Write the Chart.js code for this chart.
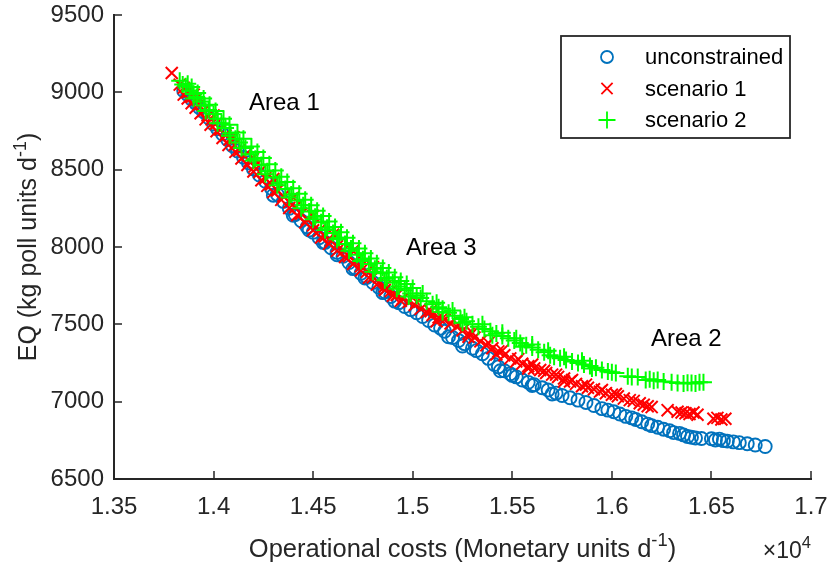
<!DOCTYPE html>
<html>
<head>
<meta charset="utf-8">
<script src="https://cdn.jsdelivr.net/npm/chart.js@4/dist/chart.umd.min.js"></script>
<style>
  html, body { margin: 0; padding: 0; background: #ffffff; }
  canvas { display: block; }
</style>
</head>
<body>
<canvas id="front" width="828" height="570"></canvas>
<script>
// Pareto fronts: operational cost (monetary units/d) vs effluent quality (kg poll units/d)
const unconstrainedCost = [
  13850, 13870, 13890, 13910, 13930, 13950, 13975, 14000, 14020, 14045,
  14070, 14095, 14120, 14150, 14175, 14200, 14230, 14260, 14290, 14320,
  14350, 14380, 14410, 14440, 14470, 14500, 14530, 14560, 14590, 14620,
  14650, 14680, 14710, 14740, 14770, 14800, 14830, 14860, 14890, 14930,
  14960, 14990, 15020, 15050, 15080, 15110, 15140, 15160, 15200, 15230,
  15260, 15300, 15320, 15350, 15380, 15410, 15430, 15460, 15490, 15520,
  15550, 15580, 15610, 15650, 15680, 15720, 15750, 15790, 15830, 15870,
  15910, 15950, 15980, 16010, 16040, 16070, 16100, 16120, 16150, 16180,
  16200, 16230, 16260, 16290, 16310, 16340, 16360, 16380, 16400, 16420,
  16450, 16500, 16520, 16540, 16560, 16580, 16610, 16640, 16680, 16720,
  16770,
  14300, 14400, 14480, 14550, 14620, 14700, 14760, 14850, 14910, 15180,
  15250, 15440, 15500, 15600, 15700
];
const unconstrainedEQ = [
  9010, 8985, 8955, 8930, 8900, 8875, 8835, 8795, 8765, 8730,
  8695, 8655, 8620, 8580, 8545, 8505, 8465, 8425, 8380, 8340,
  8295, 8250, 8210, 8170, 8130, 8095, 8060, 8030, 7995, 7965,
  7940, 7900, 7865, 7830, 7805, 7770, 7740, 7710, 7680, 7640,
  7615, 7595, 7575, 7550, 7525, 7495, 7475, 7455, 7415, 7395,
  7375, 7345, 7330, 7310, 7280, 7240, 7225, 7200, 7180, 7160,
  7140, 7125, 7110, 7090, 7075, 7055, 7040, 7025, 7010, 6995,
  6975, 6955, 6945, 6935, 6920, 6905, 6895, 6885, 6870, 6855,
  6845, 6835, 6822, 6812, 6800, 6795, 6785, 6775, 6770, 6765,
  6762, 6760, 6752, 6758, 6748, 6745, 6740, 6735, 6728, 6720,
  6710,
  8335, 8205, 8110, 8030, 7950, 7860, 7800, 7705, 7650, 7420,
  7360, 7200, 7170, 7105, 7050
];

const scenario1Cost = [
  13790, 13830, 13850, 13870, 13890, 13905, 13925, 13950, 13970, 13990,
  14010, 14035, 14060, 14080, 14105, 14130, 14155, 14180, 14205, 14230,
  14260, 14290, 14320, 14350, 14380, 14410, 14440, 14470, 14500, 14530,
  14560, 14590, 14620, 14650, 14680, 14710, 14740, 14770, 14800, 14830,
  14860, 14890, 14920, 14950, 14980, 15010, 15040, 15070, 15100, 15130,
  15160, 15190, 15220, 15250, 15280, 15310, 15340, 15370, 15400, 15430,
  15460, 15490, 15520, 15550, 15580, 15610, 15640, 15670, 15700, 15730,
  15760, 15790, 15820, 15850, 15880, 15910, 15940, 15970, 16000, 16030,
  16060, 16090, 16110, 16140, 16160, 16180, 16200, 16280, 16330, 16350,
  16370, 16390, 16410, 16430, 16510, 16530, 16550, 16570,
  13850, 13870, 13890, 13910, 13935, 13960, 13985, 14015, 14045, 14075,
  14110, 14140, 14170, 14200, 14240, 14270, 14300, 14340, 14380, 14420,
  14460, 14500, 14540, 14580, 14620, 14660, 14700, 14740, 14780, 14820,
  14860, 14900, 14940,
  13900, 14000, 14100, 14200, 14300, 14400, 14500, 14600, 14700, 14800,
  15020, 15090, 15150, 15230, 15300, 15380, 15450, 15530, 15600, 15660,
  15720, 15800, 15870, 15950, 16020, 15120, 15280, 15420, 15580, 15760
];
const scenario1EQ = [
  9125, 9050, 9030, 9000, 8970, 8950, 8920, 8880, 8850, 8825,
  8795, 8760, 8720, 8695, 8660, 8625, 8590, 8555, 8520, 8485,
  8445, 8405, 8365, 8330, 8290, 8255, 8215, 8180, 8140, 8105,
  8070, 8040, 8005, 7975, 7940, 7905, 7875, 7840, 7805, 7770,
  7745, 7715, 7690, 7665, 7645, 7625, 7600, 7580, 7560, 7545,
  7530, 7505, 7485, 7460, 7440, 7415, 7390, 7365, 7345, 7325,
  7300, 7280, 7260, 7245, 7230, 7215, 7205, 7185, 7175, 7160,
  7150, 7130, 7115, 7100, 7090, 7080, 7065, 7055, 7045, 7035,
  7020, 7010, 7005, 6990, 6980, 6970, 6965, 6945, 6935, 6930,
  6925, 6920, 6930, 6915, 6890, 6895, 6885, 6890,
  8985, 8960, 8930, 8900, 8865, 8825, 8790, 8748, 8705, 8660,
  8615, 8572, 8530, 8488, 8432, 8395, 8355, 8305, 8252, 8205,
  8158, 8108, 8062, 8020, 7975, 7935, 7890, 7848, 7802, 7757,
  7722, 7685, 7652,
  8985, 8850, 8710, 8575, 8440, 8320, 8200, 8080, 7975, 7870,
  7645, 7585, 7540, 7495, 7445, 7380, 7330, 7275, 7240, 7200,
  7175, 7140, 7110, 7075, 7050, 7520, 7420, 7305, 7215, 7130
];

const scenario2Cost = [
  13830, 13845, 13860, 13880, 13900, 13915, 13935, 13955, 13975, 14000,
  14020, 14040, 14060, 14085, 14110, 14130, 14160, 14185, 14210, 14240,
  14270, 14300, 14330, 14360, 14390, 14420, 14450, 14480, 14510, 14540,
  14570, 14600, 14630, 14660, 14690, 14720, 14750, 14780, 14810, 14840,
  14870, 14900, 14930, 14960, 14990, 15020, 15040, 15070, 15100, 15130,
  15150, 15180, 15210, 15240, 15270, 15300, 15330, 15360, 15390, 15420,
  15450, 15480, 15510, 15540, 15570, 15600, 15630, 15660, 15690, 15710,
  15740, 15770, 15800, 15830, 15860, 15890, 15920, 15950, 15980, 16000,
  16020, 16080, 16100, 16130, 16170, 16190, 16210, 16230, 16260, 16300,
  16330, 16360, 16380, 16400, 16420, 16440, 16460,
  13870, 13890, 13920, 13950, 13980, 14010, 14050, 14080, 14120, 14150,
  14190, 14220, 14250, 14280, 14310, 14340, 14370, 14400, 14430, 14460,
  14490, 14520, 14550, 14580, 14610, 14640, 14670, 14700, 14730, 14760,
  14790, 14820, 14850, 14880, 14910, 14940, 14970, 15000,
  13900, 13960, 14020, 14080, 14140, 14200, 14260, 14320, 14380, 14440,
  14500, 14560, 14620, 14680, 14740, 14800, 14860, 14920, 14980,
  15050, 15120, 15200, 15260, 15350, 15450, 15520, 15600, 15680, 15760,
  15850, 15150, 15250, 15400, 15550, 15900
];
const scenario2EQ = [
  9075, 9050, 9040, 9010, 8990, 8970, 8940, 8915, 8885, 8860,
  8830, 8800, 8770, 8735, 8700, 8675, 8640, 8600, 8570, 8530,
  8490, 8450, 8415, 8375, 8340, 8300, 8270, 8230, 8195, 8160,
  8125, 8090, 8060, 8020, 7990, 7950, 7920, 7890, 7860, 7830,
  7800, 7770, 7745, 7720, 7700, 7685, 7670, 7650, 7630, 7610,
  7600, 7575, 7555, 7535, 7520, 7500, 7485, 7470, 7455, 7440,
  7425, 7410, 7395, 7380, 7365, 7350, 7335, 7320, 7300, 7290,
  7280, 7270, 7260, 7250, 7240, 7230, 7220, 7205, 7195, 7190,
  7185, 7165, 7160, 7160, 7140, 7145, 7135, 7140, 7130, 7125,
  7120, 7118, 7122, 7120, 7118, 7125, 7125,
  9055, 9035, 8995, 8960, 8920, 8880, 8830, 8790, 8740, 8700,
  8650, 8615, 8575, 8535, 8495, 8455, 8420, 8380, 8345, 8305,
  8270, 8235, 8200, 8165, 8130, 8095, 8060, 8025, 7990, 7960,
  7925, 7895, 7865, 7835, 7805, 7780, 7760, 7735,
  8960, 8880, 8800, 8720, 8640, 8560, 8470, 8400, 8320, 8250,
  8180, 8110, 8050, 7975, 7910, 7840, 7785, 7730, 7680,
  7700, 7640, 7590, 7545, 7500, 7445, 7410, 7370, 7330, 7290,
  7265, 7580, 7510, 7430, 7355, 7215
];

const seriesNames = ['unconstrained', 'scenario 1', 'scenario 2'];
const xTickValues = [13500, 14000, 14500, 15000, 15500, 16000, 16500, 17000];
const xTickLabels = ['1.35', '1.4', '1.45', '1.5', '1.55', '1.6', '1.65', '1.7'];
const yTickValues = [6500, 7000, 7500, 8000, 8500, 9000, 9500];
const yTickLabels = ['6500', '7000', '7500', '8000', '8500', '9000', '9500'];

// Region annotations placed in data coordinates
const areaNames = ['Area 1', 'Area 3', 'Area 2'];
const areaCost = [14178, 14966, 16196];
const areaEQ = [8931, 7993, 7405];

const FONT = '"Liberation Sans", Arial, Helvetica, sans-serif';
const INK = '#262626';
const COLORS = ['#0072BD', '#FF0000', '#00FF00'];

function points(xs, ys) { return xs.map((x, i) => ({ x: x, y: ys[i] })); }

// Draws text runs where some parts are raised superscripts
function richText(ctx, runs, x, y, size, align) {
  const parts = runs.map(r => {
    const s = r.sup ? size * 0.72 : size;
    ctx.font = s + 'px ' + FONT;
    return { text: r.text, sup: r.sup, size: s, w: ctx.measureText(r.text).width };
  });
  const total = parts.reduce((a, p) => a + p.w, 0);
  let cx = align === 'center' ? x - total / 2 : (align === 'right' ? x - total : x);
  ctx.textAlign = 'left';
  ctx.textBaseline = 'alphabetic';
  parts.forEach(p => {
    ctx.font = p.size + 'px ' + FONT;
    ctx.fillText(p.text, cx, p.sup ? y - size * 0.42 : y);
    cx += p.w;
  });
}

// MATLAB-style inward tick marks on the left and bottom axes
const inwardTicks = {
  id: 'inwardTicks',
  afterDatasetsDraw(chart) {
    const { ctx, chartArea: a, scales: { x, y } } = chart;
    ctx.save();
    ctx.strokeStyle = INK;
    ctx.lineWidth = 1.5;
    ctx.beginPath();
    x.ticks.forEach(t => {
      const px = Math.round(x.getPixelForValue(t.value));
      ctx.moveTo(px, a.bottom);
      ctx.lineTo(px, a.bottom - 8);
    });
    y.ticks.forEach(t => {
      const py = Math.round(y.getPixelForValue(t.value));
      ctx.moveTo(a.left, py);
      ctx.lineTo(a.left + 8, py);
    });
    ctx.stroke();
    ctx.restore();
  }
};

// Axis titles with superscripts, exponent note, area labels and boxed legend
const decorations = {
  id: 'decorations',
  afterDraw(chart) {
    const { ctx, chartArea: a, scales: { x, y } } = chart;
    ctx.save();
    ctx.fillStyle = INK;
    richText(ctx, [{ text: 'Operational costs (Monetary units d' }, { text: '-1', sup: true }, { text: ')' }],
      (a.left + a.right) / 2, 557, 25.5, 'center');
    richText(ctx, [{ text: '\u00d7' }, { text: '10' }, { text: '4', sup: true }], a.right, 558, 23, 'right');
    ctx.save();
    ctx.translate(36, (a.top + a.bottom) / 2);
    ctx.rotate(-Math.PI / 2);
    richText(ctx, [{ text: 'EQ (kg poll units d' }, { text: '-1', sup: true }, { text: ')' }], 0, 0, 25, 'center');
    ctx.restore();

    ctx.fillStyle = '#000000';
    ctx.font = '24px ' + FONT;
    ctx.textAlign = 'left';
    ctx.textBaseline = 'middle';
    areaNames.forEach((n, i) => {
      ctx.fillText(n, x.getPixelForValue(areaCost[i]), y.getPixelForValue(areaEQ[i]));
    });

    // legend box
    const bx = 561, by = 36, bw = 229, bh = 102;
    ctx.fillStyle = '#ffffff';
    ctx.fillRect(bx, by, bw, bh);
    ctx.strokeStyle = INK;
    ctx.lineWidth = 1.8;
    ctx.strokeRect(bx, by, bw, bh);
    const rows = [57, 88.5, 120];
    const mx = 607;
    ctx.lineWidth = 1.8;
    seriesNames.forEach((n, i) => {
      const cy = rows[i];
      ctx.strokeStyle = COLORS[i];
      ctx.beginPath();
      if (i === 0) {
        ctx.arc(mx, cy, 6, 0, Math.PI * 2);
      } else if (i === 1) {
        ctx.moveTo(mx - 5.6, cy - 5.6); ctx.lineTo(mx + 5.6, cy + 5.6);
        ctx.moveTo(mx + 5.6, cy - 5.6); ctx.lineTo(mx - 5.6, cy + 5.6);
      } else {
        ctx.moveTo(mx - 8.5, cy); ctx.lineTo(mx + 8.5, cy);
        ctx.moveTo(mx, cy - 8.5); ctx.lineTo(mx, cy + 8.5);
      }
      ctx.stroke();
      ctx.fillStyle = '#000000';
      ctx.font = '22px ' + FONT;
      ctx.textAlign = 'left';
      ctx.textBaseline = 'middle';
      ctx.fillText(n, 645, cy + 1);
    });
    ctx.restore();
  }
};

const tickFont = { family: FONT, size: 24 };

new Chart(document.getElementById('front'), {
  type: 'scatter',
  data: {
    datasets: [
      {
        label: seriesNames[0],
        data: points(unconstrainedCost, unconstrainedEQ),
        pointStyle: 'circle', pointRadius: 6.5,
        pointBorderColor: COLORS[0], pointBackgroundColor: 'rgba(0,0,0,0)', pointBorderWidth: 1.9,
        order: 3
      },
      {
        label: seriesNames[1],
        data: points(scenario1Cost, scenario1EQ),
        pointStyle: 'crossRot', pointRadius: 8.5,
        pointBorderColor: COLORS[1], pointBackgroundColor: COLORS[1], pointBorderWidth: 2,
        order: 2
      },
      {
        label: seriesNames[2],
        data: points(scenario2Cost, scenario2EQ),
        pointStyle: 'cross', pointRadius: 8.5,
        pointBorderColor: COLORS[2], pointBackgroundColor: COLORS[2], pointBorderWidth: 2,
        order: 1
      }
    ]
  },
  options: {
    responsive: false,
    animation: false,
    devicePixelRatio: 1,
    events: [],
    layout: { padding: { left: 0, top: 15, right: 17, bottom: 0 } },
    plugins: { legend: { display: false }, tooltip: { enabled: false } },
    scales: {
      x: {
        type: 'linear', min: 13500, max: 17000,
        afterBuildTicks: s => { s.ticks = xTickValues.map(v => ({ value: v })); },
        afterFit: s => { s.height = 91; s.paddingLeft = 0; s.paddingRight = 0; },
        grid: { display: false, drawTicks: false },
        border: { display: true, color: INK, width: 2 },
        ticks: {
          color: INK, font: tickFont, padding: 14, maxRotation: 0, autoSkip: false,
          callback: v => xTickLabels[xTickValues.indexOf(v)]
        }
      },
      y: {
        type: 'linear', min: 6500, max: 9500,
        afterBuildTicks: s => { s.ticks = yTickValues.map(v => ({ value: v })); },
        afterFit: s => { s.width = 114; s.paddingTop = 0; s.paddingBottom = 0; },
        grid: { display: false, drawTicks: false },
        border: { display: true, color: INK, width: 2 },
        ticks: {
          color: INK, font: tickFont, padding: 10, autoSkip: false,
          callback: v => yTickLabels[yTickValues.indexOf(v)]
        }
      }
    }
  },
  plugins: [inwardTicks, decorations]
});
</script>
</body>
</html>
